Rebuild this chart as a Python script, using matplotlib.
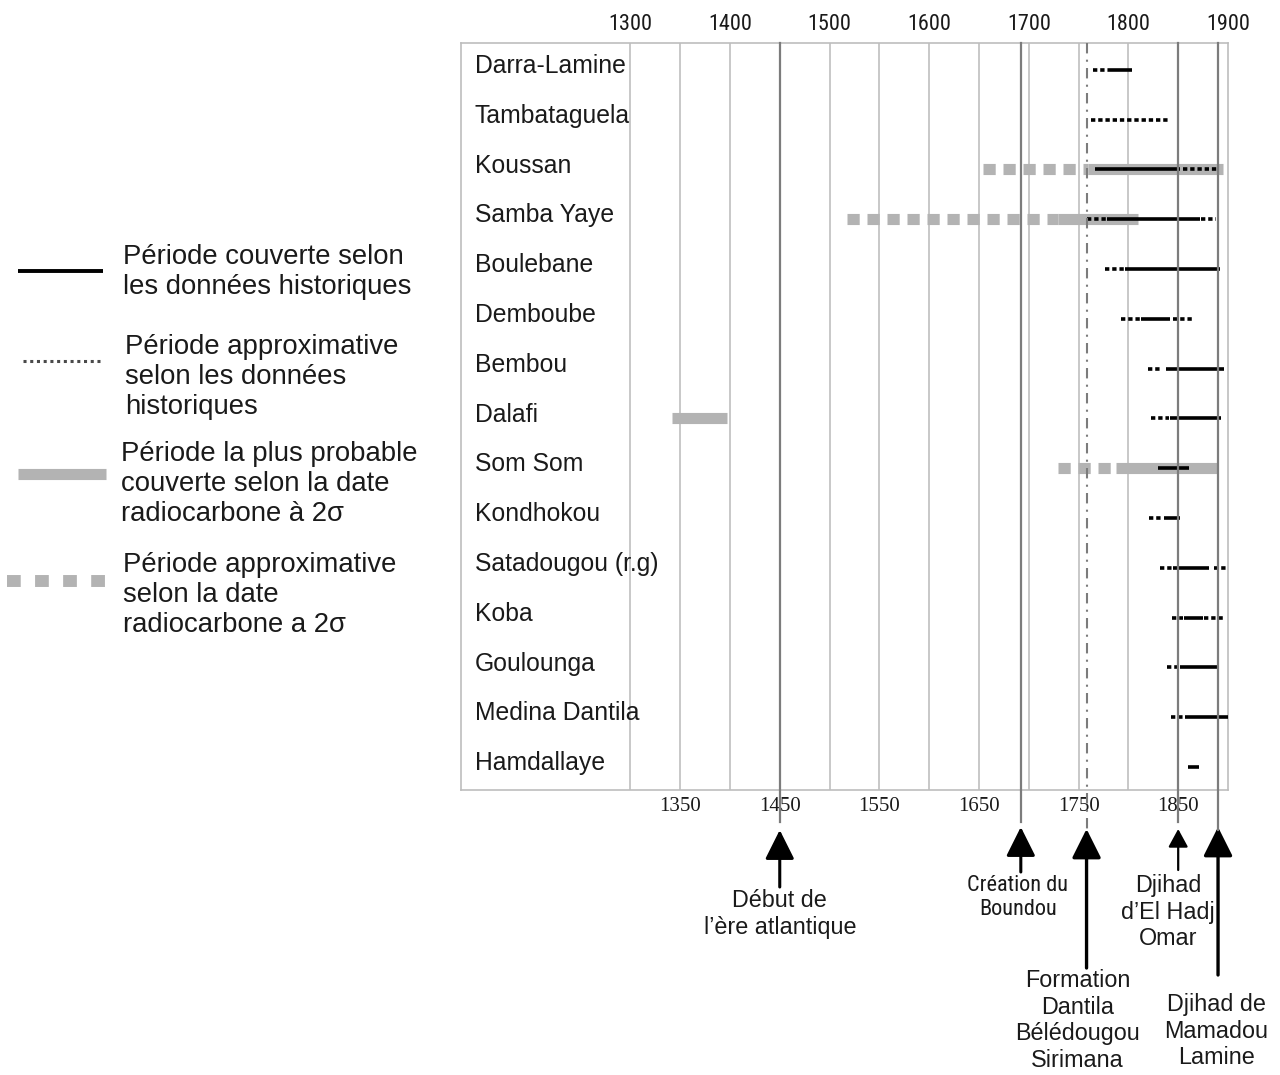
import matplotlib
matplotlib.use("Agg")
import matplotlib.pyplot as plt
from matplotlib import transforms
from matplotlib import font_manager as fm
from matplotlib.lines import Line2D

# sites, from top to bottom
sites = ["Darra-Lamine", "Tambataguela", "Koussan", "Samba Yaye", "Boulebane",
         "Demboube", "Bembou", "Dalafi", "Som Som", "Kondhokou",
         "Satadougou (r.g)", "Koba", "Goulounga", "Medina Dantila", "Hamdallaye"]

# (site, start, end)
hist_sure = [
    ("Darra-Lamine", 1782, 1804),
    ("Koussan", 1766, 1852),
    ("Samba Yaye", 1779, 1872),
    ("Boulebane", 1797, 1892),
    ("Demboube", 1813, 1842),
    ("Bembou", 1838, 1896),
    ("Dalafi", 1842, 1893),
    ("Som Som", 1830, 1861),
    ("Kondhokou", 1836, 1852),
    ("Satadougou (r.g)", 1845, 1881),
    ("Koba", 1856, 1875),
    ("Goulounga", 1852, 1891),
    ("Medina Dantila", 1857, 1900),
    ("Hamdallaye", 1860, 1871),
]
hist_approx = [
    ("Darra-Lamine", 1764, 1782),
    ("Tambataguela", 1762, 1842),
    ("Koussan", 1855, 1891),
    ("Samba Yaye", 1758, 1779),
    ("Samba Yaye", 1873, 1888),
    ("Boulebane", 1777, 1797),
    ("Demboube", 1793, 1812),
    ("Demboube", 1845, 1864),
    ("Bembou", 1820, 1833),
    ("Dalafi", 1823, 1841),
    ("Kondhokou", 1821, 1835),
    ("Satadougou (r.g)", 1832, 1844),
    ("Satadougou (r.g)", 1886, 1898),
    ("Koba", 1844, 1855),
    ("Koba", 1876, 1895),
    ("Goulounga", 1839, 1851),
    ("Medina Dantila", 1843, 1856),
]
c14_likely = [
    ("Koussan", 1759, 1895),
    ("Samba Yaye", 1729, 1810),
    ("Dalafi", 1342, 1397),
    ("Som Som", 1788, 1889),
]
c14_approx = [
    ("Koussan", 1654, 1759),
    ("Samba Yaye", 1518, 1729),
    ("Som Som", 1729, 1784),
]

top_ticks = [1300, 1400, 1500, 1600, 1700, 1800, 1900]
bottom_ticks = [1350, 1450, 1550, 1650, 1750, 1850]
grid_years = [1300, 1350, 1400, 1500, 1550, 1600, 1650, 1700, 1750, 1800]

event_years = [1450, 1692, 1758, 1850, 1890]
event_labels = ["Début de\nl’ère atlantique", "Création du\nBoundou",
                "Formation\nDantila\nBélédougou\nSirimana",
                "Djihad\nd’El Hadj\nOmar", "Djihad de\nMamadou\nLamine"]

legend_labels = ["Période couverte selon\nles données historiques",
                 "Période approximative\nselon les données\nhistoriques",
                 "Période la plus probable\ncouverte selon la date\nradiocarbone à 2σ",
                 "Période approximative\nselon la date\nradiocarbone a 2σ"]

names = {f.name for f in fm.fontManager.ttflist}
SANS = "Liberation Sans" if "Liberation Sans" in names else "DejaVu Sans"
NARROW = SANS
for cand in ["Liberation Sans Narrow", "Arial Narrow", "Roboto Condensed"]:
    if cand in names:
        NARROW = cand
        break
SERIF = "Liberation Serif" if "Liberation Serif" in names else "DejaVu Serif"
plt.rcParams["font.family"] = [SANS, "DejaVu Sans"]

GRAY = "#b3b3b3"
GRID = "#c4c4c4"
DARK = "#7c7c7c"
W, H = 1280, 1075


def fy(py):
    # pixel row (from top) -> figure fraction
    return 1 - py / H


def fx(px):
    return px / W


fig = plt.figure(figsize=(W / 100, H / 100), dpi=100)
ax = fig.add_axes([fx(461), fy(790), fx(1228) - fx(461), fy(43) - fy(790)])
ax.set_xlim(1130, 1900)
ax.set_ylim(14.46, -0.54)
row = {s: i for i, s in enumerate(sites)}

for sp in ax.spines.values():
    sp.set_color("#bdbdbd")
    sp.set_linewidth(1.2)

# ticks
ax.xaxis.tick_top()
ax.set_xticks(top_ticks)
ax.set_xticklabels([str(t) for t in top_ticks], fontsize=16, family=NARROW,
                   color="#1a1a1a")
ax.tick_params(axis="x", length=0, pad=6)
ax.set_yticks([])
sec = ax.secondary_xaxis("bottom")
sec.set_xticks(bottom_ticks)
sec.set_xticklabels([str(t) for t in bottom_ticks], fontsize=15, family=SERIF,
                    color="#1a1a1a")
sec.tick_params(length=0, pad=5)
sec.spines["bottom"].set_visible(False)

for g in grid_years:
    ax.axvline(g, color=GRID, lw=1.3, zorder=1)

# event lines extend below the box
trans = transforms.blended_transform_factory(ax.transData, fig.transFigure)
line_ends = [822, 822, 832, 822, 830]
for yr, end in zip(event_years, line_ends):
    if yr == 1758:
        ln = Line2D([yr, yr], [fy(43), fy(end)], transform=trans, color=DARK,
                    lw=1.5, ls=(0, (5, 3, 1, 3)))
    else:
        ln = Line2D([yr, yr], [fy(43), fy(end)], transform=trans, color=DARK, lw=1.6)
    fig.add_artist(ln)

# bars
for s, a, b in c14_approx:
    ax.plot([a, b], [row[s], row[s]], color=GRAY, lw=8, ls=(0, (1.1, 0.7)),
            dash_capstyle="butt", zorder=2)
for s, a, b in c14_likely:
    ax.plot([a, b], [row[s], row[s]], color=GRAY, lw=8, solid_capstyle="butt", zorder=2)
for s, a, b in hist_approx:
    ax.plot([a, b], [row[s], row[s]], color="black", lw=2.6, ls=(0, (1.2, 0.8)),
            dash_capstyle="butt", zorder=3)
for s, a, b in hist_sure:
    ax.plot([a, b], [row[s], row[s]], color="black", lw=2.6, solid_capstyle="butt", zorder=3)

# site labels
for i, s in enumerate(sites):
    ax.text(1144, i - 0.08, s, fontsize=17.8, va="center", ha="left", color="#1a1a1a")

# arrows and event texts
tips = [830, 827, 829, 829, 827]
tails = [887, 872, 968, 870, 975]
heads = [(0.9, 0.45, 2.2), (0.9, 0.45, 2.2), (0.9, 0.45, 2.4), (0.55, 0.3, 1.6), (0.9, 0.45, 2.4)]
text_dx = [0, -3, -9, -10, -2]
text_top = [889, 875, 969, 874, 993]
text_font = [SANS, NARROW, SANS, SANS, SANS]
text_size = [16.8, 16.0, 16.8, 16.8, 16.8]
for k, yr in enumerate(event_years):
    hl, hw, lw = heads[k]
    ax.annotate("", xy=(yr, fy(tips[k])), xytext=(yr, fy(tails[k])),
                xycoords=trans, textcoords=trans, annotation_clip=False,
                arrowprops=dict(arrowstyle="-|>,head_length=%g,head_width=%g" % (hl, hw),
                                color="black", lw=lw, mutation_scale=20,
                                shrinkA=0, shrinkB=0))
    fig.text(yr + text_dx[k], fy(text_top[k]), event_labels[k], transform=trans,
             ha="center", va="top", fontsize=text_size[k], linespacing=1.2,
             family=text_font[k], color="#1a1a1a")

# legend drawn by hand on the left
leg_y = [271, 361, 474, 581]
leg_x = [(18, 103), (23, 103), (18, 106), (7, 110)]
leg_style = [dict(color="black", lw=2.8, solid_capstyle="butt"),
             dict(color="#4a4a4a", lw=2.2, ls=(0, (1.0, 1.2)), dash_capstyle="butt"),
             dict(color=GRAY, lw=8, solid_capstyle="butt"),
             dict(color=GRAY, lw=8.6, ls=(0, (1.15, 1.2)), dash_capstyle="butt")]
leg_text_x = [123, 125, 121, 123]
leg_text_mid = [272, 377, 484, 595]
for k in range(4):
    x0, x1 = leg_x[k]
    fig.add_artist(Line2D([fx(x0), fx(x1)], [fy(leg_y[k]), fy(leg_y[k])],
                          transform=fig.transFigure, **leg_style[k]))
    fig.text(fx(leg_text_x[k]), fy(leg_text_mid[k]), legend_labels[k], ha="left",
             va="center", fontsize=19.8, linespacing=1.2, color="#1a1a1a")

fig.savefig("out.png", dpi=100)
